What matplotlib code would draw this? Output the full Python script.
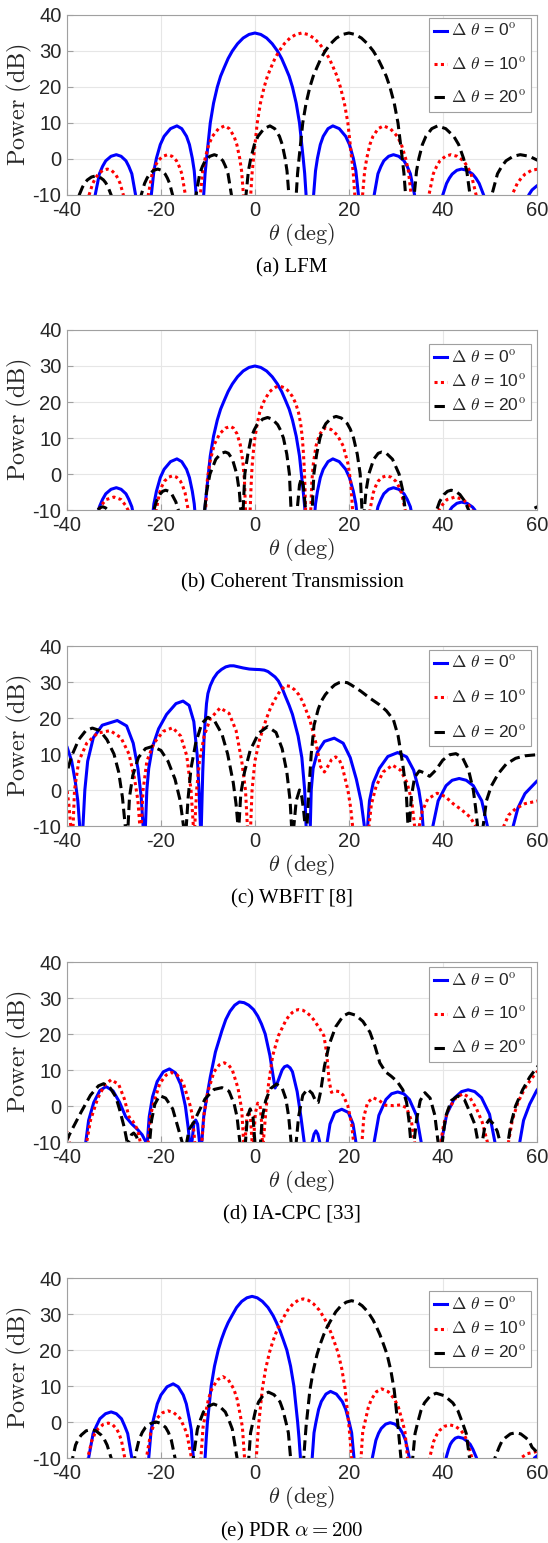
import numpy as np
import matplotlib.pyplot as plt

plt.rcParams['font.family'] = 'Liberation Sans'
plt.rcParams['axes.unicode_minus'] = False

# ---- digitised beam patterns: (theta deg, power dB); -40 marks a null ----
a_blue = [(-36.9,-40),
    (-34.0,-10),(-33.1,-4.1),(-32.43,-2.05),(-31.75,-0.5),(-30.63,0.75),(-29.5,1.2),(-28.48,0.75),(-27.45,-0.5),(-26.84,-2.05),(-26.2,-4.1),(-25.4,-10),(-23.7,-40),
    (-22.05,-10),(-21.5,-3.3),(-20.96,0.2),(-20.14,4.0),(-19.33,6.3),(-17.96,8.43),(-16.6,9.2),(-15.57,8.43),(-14.55,6.3),(-13.93,4.0),(-13.32,0.2),(-12.91,-3.3),(-12.5,-10),(-11.7,-40),
    (-10.9,-10),(-10.6,-4),(-10.3,0),(-9.5,10),(-8.8,15.5),(-8.0,20),(-7.3,23),(-6.5,25.5),(-5.7,27.9),(-4.8,30),(-3.7,32),(-2.5,33.6),(-1.25,34.6),(0,35),
    (1.25,34.6),(2.5,33.6),(3.7,32),(4.8,30),(5.7,27.9),(6.5,25.5),(7.3,23),(8.0,20),(8.8,15.5),(9.5,10),(10.3,0),(10.6,-4),(10.9,-10),(11.7,-40),
    (12.5,-10),(12.91,-3.3),(13.32,0.2),(13.93,4.0),(14.55,6.3),(15.57,8.43),(16.6,9.2),(17.96,8.43),(19.33,6.3),(20.14,4.0),(20.96,0.2),(21.5,-3.3),(22.05,-10),(23.7,-40),
    (25.4,-10),(26.2,-4.1),(26.84,-2.05),(27.45,-0.5),(28.48,0.75),(29.5,1.2),(30.63,0.75),(31.75,-0.5),(32.43,-2.05),(33.1,-4.1),(34.0,-10),(36.9,-40),
    (40.0,-10),(40.8,-6.8),(41.4,-5.33),(42.0,-4.2),(43.0,-3.14),(44.0,-2.8),(45.18,-3.14),(46.35,-4.2),(47.06,-5.33),(47.76,-6.8),(48.7,-10),(53.5,-40),
    (58.3,-10),(59.0,-8.6),(60.0,-7.5),(61.0,-6.6)]
a_red = [(-38.8,-40),
    (-35.3,-10),(-34.52,-6.8),(-33.94,-5.33),(-33.35,-4.2),(-32.38,-3.14),(-31.4,-2.8),(-30.55,-3.14),(-29.7,-4.2),(-29.19,-5.33),(-28.68,-6.8),(-28.0,-10),(-25.2,-40),
    (-22.7,-10),(-21.87,-4.1),(-21.25,-2.05),(-20.64,-0.5),(-19.6,0.75),(-18.57,1.2),(-17.63,0.75),(-16.68,-0.5),(-16.12,-2.05),(-15.55,-4.1),(-14.8,-10),(-13.1,-40),
    (-11.62,-10),(-11.1,-3.3),(-10.59,0.2),(-9.81,4.0),(-9.04,6.3),(-7.74,8.43),(-6.45,9.2),(-5.45,8.43),(-4.44,6.3),(-3.84,4.0),(-3.23,0.2),(-2.83,-3.3),(-2.43,-10),(-1.5,-40),
    (-0.89,-10),(-0.6,-4),(-0.3,0),(0.5,10),(1.18,15.5),(1.98,20),(2.67,23),(3.46,25.5),(4.26,27.9),(5.16,30),(6.26,32),(7.47,33.6),(8.73,34.6),(10.0,35),
    (11.27,34.6),(12.55,33.6),(13.77,32),(14.9,30),(15.84,27.9),(16.67,25.5),(17.49,23),(18.2,20),(19.06,15.5),(19.8,10),(20.63,0),(20.95,-4),(21.27,-10),(22.1,-40),
    (22.93,-10),(23.37,-3.3),(23.82,0.2),(24.48,4.0),(25.14,6.3),(26.25,8.43),(27.36,9.2),(28.84,8.43),(30.32,6.3),(31.2,4.0),(32.09,0.2),(32.68,-3.3),(33.27,-10),(35.0,-40),
    (37.06,-10),(37.99,-4.1),(38.69,-2.05),(39.39,-0.5),(40.56,0.75),(41.73,1.2),(43.07,0.75),(44.42,-0.5),(45.22,-2.05),(46.03,-4.1),(47.1,-10),(50.7,-40),
    (54.75,-10),(55.86,-6.8),(56.69,-5.33),(57.52,-4.2),(58.91,-3.14),(60.3,-2.8)]
a_black = [(-41.1,-40),
    (-37.4,-10),(-36.7,-7.8),(-36.18,-6.6),(-35.65,-5.8),(-34.78,-5.0),(-33.9,-4.7),(-33.08,-5.0),(-32.25,-5.8),(-31.76,-6.6),(-31.26,-7.8),(-30.6,-10),(-27.26,-40),
    (-24.2,-10),(-23.49,-6.8),(-22.96,-5.33),(-22.44,-4.2),(-21.55,-3.14),(-20.67,-2.8),(-19.88,-3.14),(-19.09,-4.2),(-18.62,-5.33),(-18.15,-6.8),(-17.52,-10),(-14.95,-40),
    (-12.53,-10),(-11.75,-4.1),(-11.17,-2.05),(-10.58,-0.5),(-9.6,0.75),(-8.63,1.2),(-7.72,0.75),(-6.81,-0.5),(-6.26,-2.05),(-5.72,-4.1),(-4.99,-10),(-3.33,-40),
    (-1.89,-10),(-1.38,-3.3),(-0.87,0.2),(-0.11,4.0),(0.66,6.3),(1.94,8.43),(3.21,9.2),(4.22,8.43),(5.23,6.3),(5.83,4.0),(6.43,0.2),(6.84,-3.3),(7.24,-10),(8.16,-40),
    (8.80,-10),(9.09,-4),(9.39,0),(10.19,10),(10.9,15.5),(11.71,20),(12.42,23),(13.23,25.5),(14.05,27.9),(14.97,30),(16.11,32),(17.36,33.6),(18.67,34.6),(20.0,35),
    (21.33,34.6),(22.68,33.6),(23.98,32),(25.2,30),(26.19,27.9),(27.08,25.5),(27.97,23),(28.75,20),(29.67,15.5),(30.47,10),(31.39,0),(31.74,-4),(32.08,-10),(32.8,-40),
    (33.92,-10),(34.42,-3.3),(34.92,0.2),(35.66,4.0),(36.41,6.3),(37.66,8.43),(38.9,9.2),(40.63,8.43),(42.35,6.3),(43.39,4.0),(44.42,0.2),(45.11,-3.3),(45.8,-10),(47.9,-40),
    (50.44,-10),(51.65,-4.1),(52.56,-2.05),(53.47,-0.5),(54.99,0.75),(56.5,1.2),(58.45,0.75),(60.4,-0.5)]

b_blue = [(-36.9,-40),
    (-33.24,-10),(-33.1,-9.1),(-32.43,-7.05),(-31.75,-5.5),(-30.63,-4.25),(-29.5,-3.8),(-28.48,-4.25),(-27.45,-5.5),(-26.84,-7.05),(-26.2,-9.1),(-26.06,-10),(-23.7,-40),
    (-21.64,-10),(-21.5,-8.3),(-20.96,-4.8),(-20.14,-1.0),(-19.33,1.3),(-17.96,3.43),(-16.6,4.2),(-15.57,3.43),(-14.55,1.3),(-13.93,-1.0),(-13.32,-4.8),(-12.91,-8.3),(-12.8,-10),(-11.7,-40),
    (-10.65,-10),(-10.6,-9),(-10.3,-5),(-9.5,5),(-8.8,10.5),(-8.0,15),(-7.3,18),(-6.5,20.5),(-5.7,22.9),(-4.8,25),(-3.7,27),(-2.5,28.6),(-1.25,29.6),(0,30),
    (1.25,29.6),(2.5,28.6),(3.7,27),(4.8,25),(5.7,22.9),(6.5,20.5),(7.3,18),(8.0,15),(8.8,10.5),(9.5,5),(10.3,-5),(10.6,-9),(10.65,-10),(11.7,-40),
    (12.8,-10),(12.91,-8.3),(13.32,-4.8),(13.93,-1.0),(14.55,1.3),(15.57,3.43),(16.6,4.2),(17.96,3.43),(19.33,1.3),(20.14,-1.0),(20.96,-4.8),(21.5,-8.3),(21.64,-10),(23.7,-40),
    (26.06,-10),(26.2,-9.1),(26.84,-7.05),(27.45,-5.5),(28.48,-4.25),(29.5,-3.8),(30.63,-4.25),(31.75,-5.5),(32.43,-7.05),(33.1,-9.1),(33.24,-10),(36.9,-40),
    (41.57,-10),(42.0,-9.2),(43.0,-8.14),(44.0,-7.8),(45.18,-8.14),(46.35,-9.2),(46.85,-10),(53.5,-40)]
b_red = [(-36.0,-40),
    (-33.3,-10),(-32.64,-8.6),(-31.65,-7.1),(-30.0,-6.4),(-28.5,-7.1),(-27.6,-8.6),(-27.0,-10),(-24.0,-40),
    (-21.0,-10),(-20.3,-5.25),(-19.78,-3.35),(-19.25,-2.0),(-18.38,-0.88),(-17.5,-0.5),(-16.68,-0.88),(-15.85,-2.0),(-15.36,-3.35),(-14.86,-5.25),(-14.2,-10),(-12.35,-40),
    (-10.5,-10),(-10.13,-1.8),(-9.6,3.2),(-8.65,8.2),(-7.48,11.2),(-6.26,12.75),(-5.2,13.2),(-4.56,12.75),(-3.82,11.2),(-3.12,8.2),(-2.54,3.2),(-2.22,-1.8),(-2.0,-10),(-1.5,-40),
    (-1.0,-10),(-0.8,-3),(-0.6,2),(-0.3,6.5),(0.0,10),(0.5,14),(1.0,17),(1.7,19.6),(2.5,21.5),(3.1,22.8),(3.8,23.6),(4.45,24.15),(5.1,24.4),
    (5.8,24.2),(6.5,23.8),(7.25,22.9),(8.0,21.5),(8.7,19.6),(9.3,17),(9.75,14),(10.1,10),(10.3,6.5),(10.5,2),(10.65,-3),(10.8,-10),(11.35,-40),
    (11.9,-10),(12.12,-2.2),(12.44,2.8),(13.02,7.8),(13.72,10.8),(14.46,12.35),(15.1,12.8),(16.24,12.35),(17.55,10.8),(18.8,7.8),(19.83,2.8),(20.4,-2.2),(20.8,-10),(22.6,-40),
    (24.5,-10),(25.2,-5.25),(25.73,-3.35),(26.25,-2.0),(27.13,-0.88),(28.0,-0.5),(29.0,-0.88),(30.0,-2.0),(30.6,-3.35),(31.2,-5.25),(32.0,-10),(35.6,-40),
    (39.2,-10),(39.88,-8.6),(40.9,-7.1),(42.6,-6.4),(44.4,-7.1),(45.48,-8.6),(46.2,-10),(50.0,-40)]
b_black = [(-36.0,-40),
    (-33.5,-10),(-33.0,-9.4),(-32.4,-9.1),(-31.8,-9.4),(-31.3,-10),(-26.0,-40),
    (-21.5,-10),(-21.0,-7.7),(-20.25,-5.7),(-19.62,-4.8),(-19.0,-4.5),(-18.33,-4.8),(-17.65,-5.7),(-16.84,-7.7),(-16.3,-10),(-13.5,-40),
    (-10.7,-10),(-10.3,-5),(-9.56,0),(-8.32,4.1),(-7.18,5.75),(-6.3,6.1),(-5.64,5.75),(-4.78,4.1),(-3.86,0),(-3.3,-5),(-3.0,-10),(-2.75,-40),
    (-2.5,-10),(-2.14,0),(-1.5,5.5),(-0.81,10),(-0.16,12.2),(0.46,13.7),(1.66,15.25),(2.7,15.7),(3.7,15.25),(4.85,13.7),(5.45,12.2),(6.08,10),(6.8,5.5),(7.35,0),(7.7,-10),(8.35,-40),
    (9.0,-10),(9.5,-3),(9.9,-1.2),(10.3,-3),(10.8,-10),(11.5,-40),
    (12.2,-10),(12.56,0),(13.15,5.5),(13.86,10),(14.5,12.5),(15.11,14),(16.28,15.55),(17.3,16),(18.4,15.55),(19.67,14),(20.3,12.5),(21.01,10),(21.8,5.5),(22.42,0),(22.8,-10),(23.05,-40),
    (23.3,-10),(23.63,-5),(24.26,0),(25.3,4.1),(26.26,5.75),(27.0,6.1),(28.0,5.75),(29.3,4.1),(30.7,0),(31.55,-5),(32.0,-10),(35.3,-40),
    (38.7,-10),(39.32,-7.7),(40.25,-5.7),(41.02,-4.8),(41.8,-4.5),(42.72,-4.8),(43.65,-5.7),(44.76,-7.7),(45.5,-10),(52.0,-40),
    (59.0,-10),(59.5,-9.5),(60.0,-9.2),(61.0,-8.8)]

c_blue = [(-41,14),(-40,12.0),(-39.0,8),(-38.2,2),(-37.7,-3),(-37.3,-10),(-36.95,-40),
    (-36.6,-10),(-36.2,0),(-35.6,8),(-34.4,14.5),(-32.5,18),(-29.3,19.3),(-27.3,17.8),(-25.9,13),(-24.9,6),(-24.2,-2),(-23.8,-10),(-23.55,-40),
    (-23.3,-10),(-23.0,0),(-22.6,6),(-21.8,12),(-20.5,17),(-18.8,21),(-16.8,24),(-15.3,24.7),(-14.0,23.5),(-13.0,19),(-12.3,10),(-11.9,0),(-11.6,-10),(-11.5,-40),
    (-11.4,-10),(-11.1,5),(-10.8,15),(-10.3,24),(-10.0,26.8),(-9.5,29),(-8.8,31.0),(-8.0,32.5),(-7.1,33.5),(-6.2,34.2),(-5.3,34.5),(-4.5,34.5),(-3.5,34.2),(-2.5,33.9),(-1.2,33.6),(0,33.5),
    (1.0,33.45),(2.0,33.3),(2.8,32.9),(3.5,32.2),(4.3,31.4),(5.0,30.3),(5.8,28.3),(6.5,26),(7.3,23.5),(8.0,21),(8.6,18),(9.2,15),(10.0,9),(10.6,0),(10.9,-10),(11.35,-40),
    (11.8,-10),(12.0,0),(12.4,6),(13.3,10.5),(14.8,13.5),(16.9,14.4),(18.8,13),(20.3,9),(21.6,3),(22.6,-3),(23.3,-10),(23.65,-40),
    (24.0,-10),(24.4,-3),(25.2,2),(26.5,6),(28.3,9.3),(30.4,10.4),(32.3,9.2),(33.8,5.5),(34.9,0),(35.5,-5),(35.8,-10),(36.85,-40),
    (37.9,-10),(39.02,-3.0),(40.7,1.2),(42.0,2.7),(43.5,3.2),(45.0,2.7),(46.5,1.2),(48.3,-3.0),(49.5,-10),(52.2,-40),
    (55.0,-10),(56.0,-5),(57.5,-1),(60,2.4),(61,3.5)]
c_red = [(-41,3),(-40,0),(-39.6,-4),(-39.2,-10),(-38.95,-40),
    (-38.7,-10),(-38.4,0),(-37.5,8),(-35.8,13),(-33.5,15.8),(-30.8,16.5),(-28.5,14.5),(-26.8,10),(-25.6,3),(-24.9,-3),(-24.5,-10),(-24.35,-40),
    (-24.2,-10),(-23.8,0),(-23.0,8),(-21.5,13),(-19.5,16.3),(-17.5,17.3),(-15.8,15),(-14.5,9.5),(-13.6,0),(-13.1,-10),(-12.95,-40),
    (-12.8,-10),(-12.4,0),(-11.8,8),(-10.8,15),(-9.5,19.8),(-7.4,22.8),(-5.5,21.3),(-4.0,16.5),(-2.8,8),(-2.0,0),(-1.6,-10),(-1.25,-40),
    (-0.9,-10),(-0.6,0),(0.0,8),(1.0,14),(2.5,20),(3.3,22.7),(4.2,25),(5.3,27.4),(6.5,29.0),(7.5,28.8),(8.5,27.8),(9.4,26.4),(10.2,24.5),(11.7,19.5),(13.0,13),(14.0,6.5),(14.8,5.0),(15.5,6.5),(16.3,8.4),(17.2,9.2),(18.0,8.3),(18.6,6.5),(19.8,0),(20.4,-5),(20.8,-10),(22.5,-40),
    (24.3,-10),(24.8,-4),(25.8,1),(27.3,5),(29.3,6.9),(31.0,5.5),(32.4,2),(33.4,-3),(34.0,-10),(34.5,-40),
    (35.0,-10),(35.6,-6),(36.8,-2.5),(38.8,-0.9),(40.5,-1.8),(42.2,-3.8),(44.0,-5.5),(45.8,-7.5),(47.0,-10),(50.0,-40),
    (53.0,-10),(54.0,-7),(55.5,-5.2),(57.5,-3.8),(60,-3.1),(61,-2.9)]
c_black = [(-41,2),(-40,5.0),(-39.0,9.5),(-37.5,14),(-36.0,16.5),(-34.6,17.2),(-33.0,16.5),(-31.5,14),(-30.0,10),(-29.0,5),(-28.2,-2),(-27.6,-10),(-27.3,-40),
    (-27.0,-10),(-26.7,-2),(-26.0,4),(-24.8,9),(-23.3,11.5),(-21.8,12.1),(-20.0,11.0),(-18.5,8),(-17.0,3),(-15.9,-3),(-15.2,-10),(-14.9,-40),
    (-14.6,-10),(-14.2,-2),(-13.6,6),(-12.6,13),(-11.3,18.5),(-10.0,20.2),(-8.5,19.0),(-7.0,15.5),(-5.8,10),(-4.6,2),(-4.0,-4),(-3.6,-10),(-3.5,-40),
    (-3.4,-10),(-3.0,-1),(-2.2,5),(-1.0,11),(0.8,15.8),(2.7,17.6),(4.5,16),(5.8,11.5),(6.8,5),(7.5,-3),(7.8,-10),(8.05,-40),
    (8.3,-10),(8.8,-3),(9.5,0),(10.0,-2),(10.4,-6),(10.7,-10),(10.9,-40),
    (11.1,-10),(11.5,0),(12.0,10),(12.6,18),(13.5,22.5),(14.2,24.8),(15.0,26.5),(16.0,28.0),(17.0,29.2),(17.9,29.8),(18.8,30.0),(19.7,29.8),(20.5,29.2),(22.5,27.5),(24.5,25.5),(26.5,23.7),(28.0,22.0),(29.5,19.5),(30.5,15),(31.5,7),(32.2,0),(32.6,-10),(32.75,-40),
    (32.9,-10),(33.3,-2),(34.0,3.5),(35.0,5.3),(36.0,4.8),(37.2,3.8),(38.5,5.5),(40.0,8.3),(41.5,9.8),(42.8,10.1),(44.2,9.0),(45.5,5.5),(46.5,0),(47.0,-5),(47.4,-10),(48.0,-40),
    (48.6,-10),(49.3,-3),(50.3,1),(51.8,4.5),(53.5,7.2),(55.5,8.8),(57.5,9.5),(60,9.8),(61,9.9)]

d_blue = [(-37.0,-40),
    (-36.0,-10),(-35.4,-4),(-34.3,1),(-33.0,4.3),(-31.7,5.4),(-30.2,4.2),(-28.8,1),(-27.5,-3),(-26.2,-5),(-25.0,-6.5),(-24.0,-8),(-23.2,-10),(-23.05,-40),
    (-22.9,-10),(-22.5,-3),(-21.8,2.5),(-20.8,6.8),(-19.5,9.5),(-18.2,10.3),(-16.9,9.2),(-15.8,6),(-14.8,0),(-14.2,-6),(-13.9,-10),(-13.65,-40),
    (-13.4,-10),(-13.0,-5),(-12.6,-3.9),(-12.2,-5),(-11.8,-10),(-11.55,-40),
    (-11.3,-10),(-10.9,-3),(-10.3,2),(-9.5,8),(-8.4,15),(-7.0,21),(-6.2,24.0),(-5.3,26.3),(-4.3,28.0),(-3.3,28.9),(-2.3,28.7),(-1.3,28.0),(-0.3,26.8),(0.6,25),(1.4,22.8),(2.2,20),(3.2,14),(3.8,9),(4.3,5),
    (4.8,6.5),(5.8,10),(6.3,10.9),(6.9,11.2),(7.5,10.6),(8.0,9.5),(9.0,4),(9.8,-3),(10.5,-10),(11.35,-40),
    (12.2,-10),(12.6,-7.8),(13.0,-6.9),(13.4,-7.8),(13.8,-10),(14.6,-40),
    (15.4,-10),(16.0,-5),(17.0,-1.8),(18.5,-0.9),(19.9,-1.8),(20.9,-5),(21.5,-10),(23.5,-40),
    (25.4,-10),(26.4,-2.6),(27.9,1.8),(29.1,3.4),(30.4,3.9),(31.7,3.4),(32.9,1.8),(34.4,-2.6),(35.4,-10),(37.5,-40),
    (39.7,-10),(40.84,-2.3),(42.55,2.3),(44.0,4.0),(45.4,4.5),(46.8,4.0),(48.25,2.3),(49.96,-2.3),(51.1,-10),(53.7,-40),
    (56.4,-10),(57.2,-4),(58.5,0.5),(60,4.3),(61,6)]
d_red = [(-41,-5),(-40,-7.2),(-39.5,-10),(-37.6,-40),
    (-35.8,-10),(-35.0,-4),(-33.5,2),(-32.0,5.8),(-30.6,7.3),(-29.0,6),(-27.8,2),(-26.8,-3),(-26.0,-4.2),(-25.0,-6.5),(-24.4,-10),(-23.55,-40),
    (-22.7,-10),(-22.2,-2.6),(-21.7,0.2),(-20.2,6.4),(-18.9,8.6),(-17.7,9.3),(-16.5,8.6),(-15.25,6.4),(-13.8,0.2),(-13.3,-2.6),(-12.8,-10),(-12.05,-40),
    (-11.3,-10),(-10.8,-2),(-10.0,4),(-8.7,9.5),(-7.6,11.4),(-6.5,12.0),(-5.6,11.4),(-4.8,10),(-3.6,5),(-2.8,-1),(-2.4,-10),(-2.25,-40),
    (-2.1,-10),(-1.7,-3),(-1.3,-1.5),(-0.9,-4),(-0.6,-10),(-0.45,-40),
    (-0.3,-10),(0.1,-2),(0.6,0.8),(1.1,0.3),(1.4,-4),(1.6,-10),(1.7,-40),
    (1.8,-10),(2.3,-2),(2.9,6),(3.8,14),(5.0,19.5),(6.6,23.8),(7.3,25.1),(8.0,26),(8.7,26.6),(9.4,26.8),(10.2,26.6),(11.0,26),(11.8,25.1),(12.5,24),(13.8,21.5),(14.7,19.5),(15.3,14.5),(15.8,7),(16.3,3.8),(17.0,4.2),(18.0,4.0),(18.8,3.0),(19.8,0),(20.6,-5),(21.0,-10),(21.9,-40),
    (22.8,-10),(23.2,-3),(24.0,1.0),(25.2,2.3),(26.5,1.5),(27.8,0.2),(29.5,0.1),(31.0,0.3),(32.3,-0.5),(33.3,-4),(34.0,-10),(36.8,-40),
    (39.6,-10),(40.2,-5),(41.2,-1),(42.8,2.3),(44.3,3.4),(45.8,2.3),(47.2,-0.8),(48.4,-4.5),(49.5,-10),(51.7,-40),
    (54.0,-10),(54.8,-4),(56.0,1),(57.5,5),(59.0,7.8),(60,9.4),(61,10.5)]
d_black = [(-40.2,-10),(-39.5,-8),(-38.8,-6.2),(-37.0,-1.7),(-35.0,3.0),(-33.3,5.6),(-32.2,6.2),(-30.8,5.0),(-29.6,2.5),(-28.8,-1),(-27.8,-6),(-27.2,-10),(-27.05,-40),
    (-26.9,-10),(-26.3,-8),(-25.8,-7.5),(-25.2,-8.5),(-24.8,-10),(-23.6,-40),
    (-22.4,-10),(-22.0,-4),(-21.3,0.5),(-20.3,2.9),(-19.0,2.2),(-17.5,-0.8),(-16.3,-6.3),(-15.5,-10),(-15.0,-40),
    (-14.5,-10),(-14.0,-6.5),(-13.0,-4.5),(-12.0,-1.7),(-10.6,2.0),(-8.7,4.6),(-7.0,5.1),(-5.5,4.1),(-4.4,0.5),(-3.8,-3),(-3.2,-10),(-2.6,-40),
    (-2.0,-10),(-1.6,-3),(-1.0,-0.8),(-0.4,-3),(0.0,-10),(0.6,-40),
    (1.2,-10),(1.6,-3),(2.3,1.5),(3.3,4.8),(4.6,6.1),(5.8,5),(6.6,2),(7.2,-3),(7.7,-10),(8.25,-40),
    (8.8,-10),(9.3,-3),(10.2,3),(11.2,4.7),(12.2,3.5),(13.0,1.2),(13.5,1.0),(14.0,4),(14.8,11),(15.8,17),(17.2,22),(18.8,25),(20.0,25.8),(21.5,25.2),(23.0,23.5),(24.5,20.5),(25.6,16.5),(26.6,12),(27.8,9.5),(29.0,8.3),(30.3,6.8),(31.5,4.5),(32.3,1),(32.8,-4),(33.2,-10),(33.55,-40),
    (33.9,-10),(34.4,-4),(35.2,1.5),(36.2,3.7),(37.3,2.2),(38.3,-2.5),(39.0,-10),(39.45,-40),
    (39.9,-10),(40.6,-3),(41.8,1.5),(43.2,2.8),(44.6,1.8),(45.8,-1.8),(46.8,-5),(47.5,-10),(47.95,-40),
    (48.4,-10),(49.0,-5.5),(49.9,-3.8),(50.8,-5),(51.6,-7),(52.2,-10),(53.05,-40),
    (53.9,-10),(54.5,-5),(55.5,0),(57.0,4.5),(58.5,8),(60,10.7),(61,12)]

e_blue = [(-37.8,-40),
    (-35.4,-10),(-34.44,-3.2),(-33.72,-1.04),(-33.0,0.9),(-31.8,2.3),(-30.6,2.8),(-29.5,2.3),(-28.4,0.9),(-27.74,-1.04),(-27.08,-3.2),(-26.2,-10),(-24.4,-40),
    (-22.6,-10),(-22.08,-2.2),(-21.56,0.9),(-20.78,5.04),(-20.0,7.5),(-18.7,9.78),(-17.4,10.6),(-16.33,9.78),(-15.25,7.5),(-14.6,5.04),(-13.96,0.9),(-13.53,-2.2),(-13.1,-10),(-11.85,-40),
    (-10.6,-10),(-10.35,-4.5),(-10.1,0),(-9.3,10),(-8.6,15.5),(-7.8,20),(-7.1,23),(-6.4,25.5),(-5.7,27.6),(-4.9,29.5),(-3.9,31.8),(-2.8,33.5),(-1.7,34.5),(-0.6,34.9),
    (0.5,34.5),(1.6,33.5),(2.8,31.8),(3.9,29.5),(4.6,27.6),(5.3,25.5),(6.0,23),(6.8,20),(7.6,15.5),(8.3,10),(9.1,0),(9.4,-4.5),(9.7,-10),(10.95,-40),
    (12.2,-10),(12.59,-3.0),(12.98,-0.2),(13.57,3.5),(14.15,5.7),(15.13,7.76),(16.1,8.5),(17.35,7.76),(18.6,5.7),(19.35,3.5),(20.1,-0.2),(20.6,-3.0),(21.1,-10),(23.05,-40),
    (25.0,-10),(25.76,-5.1),(26.33,-3.14),(26.9,-1.8),(27.85,-0.59),(28.8,-0.2),(29.83,-0.59),(30.85,-1.8),(31.47,-3.14),(32.08,-5.1),(32.9,-10),(36.8,-40),
    (40.7,-10),(41.22,-7.6),(41.61,-6.2),(42.0,-5.4),(42.65,-4.5),(43.3,-4.2),(44.28,-4.5),(45.25,-5.4),(45.84,-6.2),(46.42,-7.6),(47.2,-10),(53.3,-40),
    (59.5,-10),(60,-9.5),(61,-8.5)]
e_red = [(-38.0,-40),
    (-35.6,-10),(-34.72,-5.2),(-34.06,-3.2),(-33.4,-1.9),(-32.3,-0.69),(-31.2,-0.3),(-30.33,-0.69),(-29.45,-1.9),(-28.93,-3.2),(-28.4,-5.2),(-27.7,-10),(-25.4,-40),
    (-23.1,-10),(-22.18,-3.1),(-21.49,-0.83),(-20.8,1.1),(-19.65,2.58),(-18.5,3.1),(-17.25,2.58),(-16.0,1.1),(-15.25,-0.83),(-14.5,-3.1),(-13.5,-10),(-12.5,-40),
    (-11.5,-10),(-11.03,-1.4),(-10.56,2.0),(-9.86,6.5),(-9.15,9.2),(-7.98,11.7),(-6.8,12.6),(-5.65,11.7),(-4.5,9.2),(-3.81,6.5),(-3.12,2.0),(-2.66,-1.4),(-2.2,-10),(-0.95,-40),
    (0.3,-10),(0.55,-5.2),(0.8,-0.7),(1.6,9.3),(2.3,14.8),(3.1,19.3),(3.8,22.3),(4.5,24.8),(5.2,26.9),(6.0,28.8),(7.0,31.1),(8.1,32.8),(9.2,33.8),(10.3,34.2),
    (11.4,33.8),(12.5,32.8),(13.7,31.1),(14.8,28.8),(15.5,26.9),(16.2,24.8),(16.9,22.3),(17.7,19.3),(18.5,14.8),(19.2,9.3),(20.0,-0.7),(20.3,-5.2),(20.6,-10),(21.6,-40),
    (22.6,-10),(22.96,-2.7),(23.48,0.2),(24.14,4.0),(24.8,6.3),(25.9,8.43),(27.0,9.2),(28.38,8.43),(29.75,6.3),(30.58,4.0),(31.4,0.2),(31.95,-2.7),(32.5,-10),(34.85,-40),
    (37.2,-10),(38.06,-5.4),(38.7,-3.56),(39.35,-2.3),(40.43,-1.17),(41.5,-0.8),(42.68,-1.17),(43.85,-2.3),(44.56,-3.56),(45.26,-5.4),(46.2,-10),(51.4,-40),
    (56.6,-10),(58.0,-8.8),(60,-8.2),(61,-8.0)]
e_black = [(-41.0,-40),
    (-38.8,-10),(-38.18,-6.4),(-37.57,-4.7),(-36.95,-3.6),(-35.93,-2.45),(-34.9,-2.1),(-33.83,-2.45),(-32.75,-3.6),(-32.1,-4.7),(-31.46,-6.4),(-30.6,-10),(-28.1,-40),
    (-25.6,-10),(-24.68,-5.0),(-23.99,-2.9),(-23.3,-1.5),(-22.15,-0.4),(-21.0,0.0),(-20.0,-0.4),(-19.0,-1.5),(-18.4,-2.9),(-17.8,-5.0),(-17.0,-10),(-15.05,-40),
    (-13.1,-10),(-12.24,-2.0),(-11.6,0.6),(-10.95,2.8),(-9.88,4.4),(-8.8,5.0),(-7.55,4.4),(-6.3,2.8),(-5.55,0.6),(-4.8,-2.0),(-3.8,-10),(-2.55,-40),
    (-1.3,-10),(-0.92,-3.0),(-0.46,-0.3),(0.17,3.4),(0.8,5.6),(1.85,7.57),(2.9,8.3),(4.08,7.57),(5.35,5.6),(5.96,3.4),(6.66,-0.3),(7.13,-3.0),(7.6,-10),(9.0,-40),
    (10.4,-10),(10.64,-5.7),(10.9,-1.2),(11.71,8.8),(12.43,14.3),(13.24,18.8),(13.96,21.8),(14.67,24.3),(15.39,26.4),(16.2,28.3),(17.22,30.6),(18.34,32.3),(19.47,33.3),(20.59,33.7),
    (21.71,33.3),(22.83,32.3),(24.06,30.6),(25.18,28.3),(25.89,26.4),(26.61,24.3),(27.32,21.8),(28.14,18.8),(28.95,14.3),(29.67,8.8),(30.48,-1.2),(30.79,-5.7),(31.09,-10),(32.4,-40),
    (33.6,-10),(34.1,-3.2),(34.6,-0.5),(35.35,3.14),(36.1,5.3),(37.35,7.28),(38.6,8.0),(40.38,7.28),(42.15,5.3),(43.22,3.14),(44.28,-0.5),(45.0,-3.2),(45.7,-10),(48.4,-40),
    (51.1,-10),(52.0,-7.0),(52.64,-5.2),(53.3,-4.4),(54.4,-3.3),(55.5,-3.0),(56.6,-3.3),(57.7,-4.4),(58.36,-5.2),(59.0,-7.0),(60.0,-8.3),(60.7,-10)]

captions = ['(a) LFM', '(b) Coherent Transmission', '(c) WBFIT [8]',
            '(d) IA-CPC [33]', r'(e) PDR $\alpha = 200$']
labels = [r'$\Delta$ $\theta$ = 0$^{\mathrm{o}}$', r'$\Delta$ $\theta$ = 10$^{\mathrm{o}}$',
          r'$\Delta$ $\theta$ = 20$^{\mathrm{o}}$']
xticks = [-40, -20, 0, 20, 40, 60]
yticks = [-10, 0, 10, 20, 30, 40]

series = [(a_blue, a_red, a_black), (b_blue, b_red, b_black), (c_blue, c_red, c_black),
          (d_blue, d_red, d_black), (e_blue, e_red, e_black)]

# layout in pixels
W, H = 548, 1543
ax_left, ax_right, ax_h = 67, 536.7, 180
ax_tops = [15, 330, 646, 962, 1278]
leg_top = [2.5, 14, 3.5, 5, 13]       # px below axes top
leg_space = [0.94, 0.42, 1.02, 0.96, 0.42]

styles = [dict(color='blue', ls='-'),
          dict(color='red', ls=(0, (1, 1.1)), dash_capstyle='butt'),
          dict(color='black', ls=(0, (3.4, 1.7)), dash_capstyle='butt')]
gray = '#a0a0a0'
txt = '#262626'

fig = plt.figure(figsize=(W / 100, H / 100), dpi=100)

for i, curves in enumerate(series):
    top = ax_tops[i]
    ax = fig.add_axes([ax_left / W, 1 - (top + ax_h) / H, (ax_right - ax_left) / W, ax_h / H])
    for pts, st, lab in zip(curves, styles, labels):
        arr = np.array(pts)
        ax.plot(arr[:, 0], arr[:, 1], lw=2.2, label=lab, **st)
    ax.set_xlim(-40, 60)
    ax.set_ylim(-10, 40)
    ax.set_xticks(xticks)
    ax.set_yticks(yticks)
    ax.grid(True, color='#e6e6e6', lw=0.8)
    ax.set_axisbelow(True)
    for s in ax.spines.values():
        s.set_color(gray)
        s.set_linewidth(0.8)
    ax.tick_params(direction='in', length=4, width=0.8, color=gray,
                   labelsize=14.5, labelcolor=txt, pad=4)
    ax.set_ylabel(r'$\mathrm{Power\ (dB)}$', fontsize=17.5, color=txt,
                  math_fontfamily='cm', labelpad=-1)
    ax.set_xlabel(r'$\theta\ \mathrm{(deg)}$', fontsize=16, color=txt,
                  math_fontfamily='cm', labelpad=1)
    leg = ax.legend(loc='upper right',
                    bbox_to_anchor=((531 - ax_left) / (ax_right - ax_left), 1 - leg_top[i] / ax_h),
                    fontsize=12.5, handlelength=0.75, handletextpad=0.2,
                    labelspacing=leg_space[i], borderpad=0.3, borderaxespad=0,
                    fancybox=False, framealpha=1, edgecolor=gray)
    leg.get_frame().set_linewidth(0.8)
    for t in leg.get_texts():
        t.set_math_fontfamily('cm')
        t.set_color(txt)
    fig.text(292 / W, 1 - (top + ax_h + 73) / H, captions[i], ha='center', va='center',
             fontsize=15, family='Liberation Serif', math_fontfamily='cm')

fig.savefig('out.png', dpi=100)
